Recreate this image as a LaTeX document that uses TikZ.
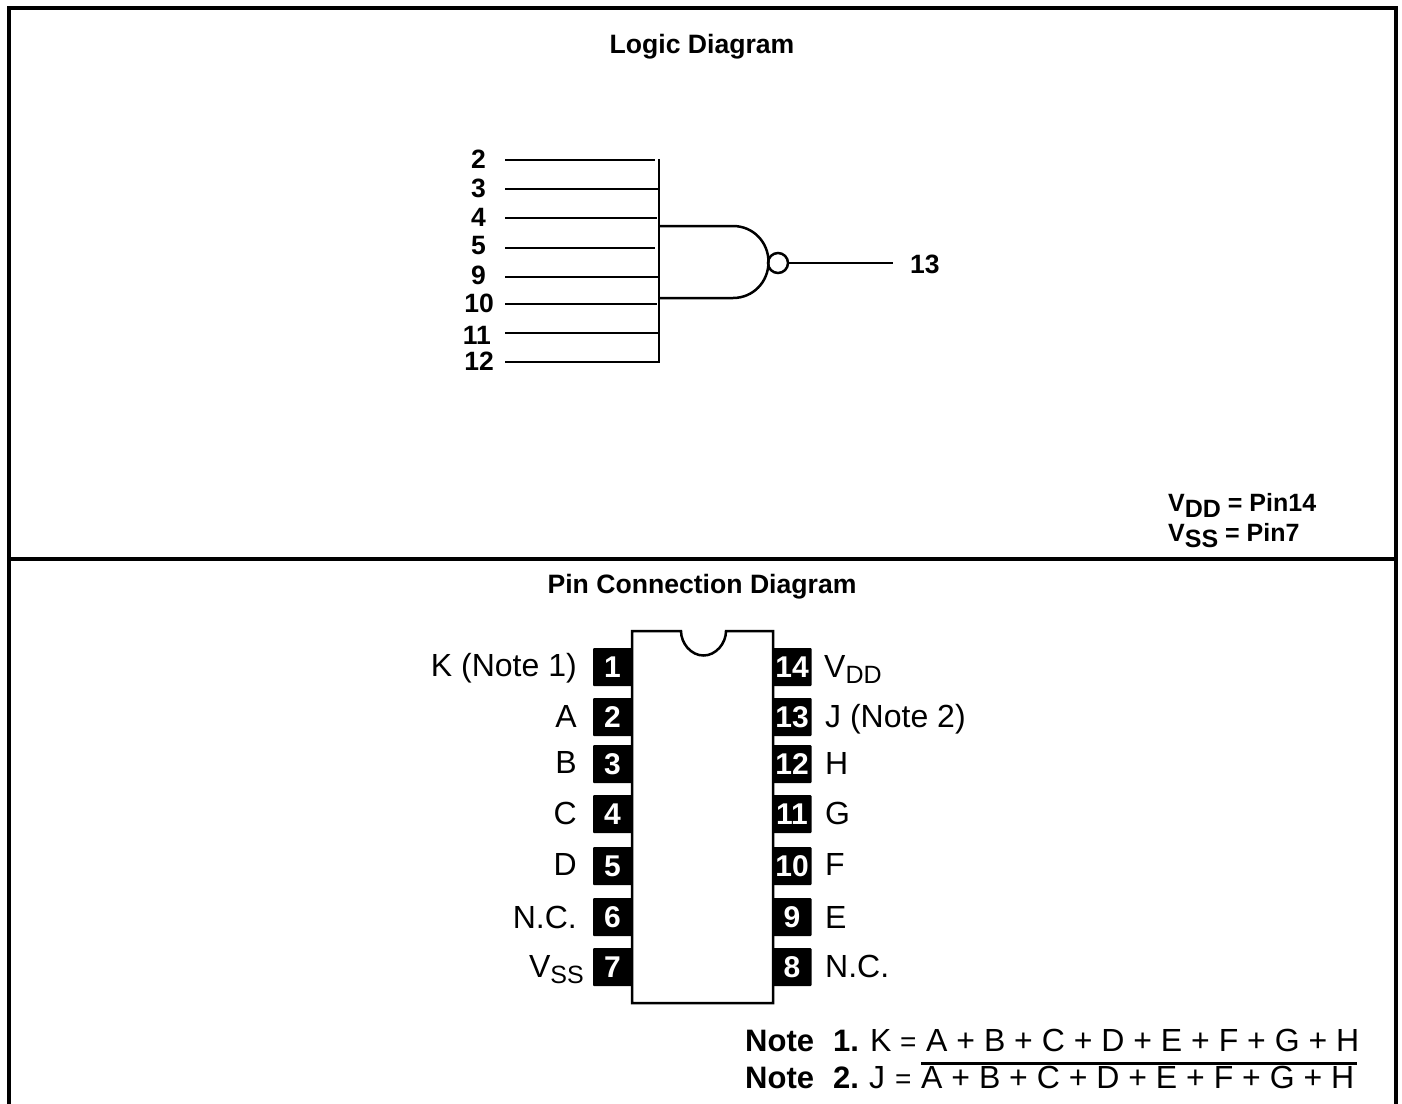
\documentclass[tikz,border=0pt]{standalone}
\usepackage{fontspec}
\setmainfont{Liberation Sans}
\tikzset{
  frameline/.style={line width=3.4pt,line cap=rect},
  wire/.style={line width=2.5pt},
  bold label/.style={font=\fontsize{26.5}{26.5}\selectfont\bfseries,inner sep=0pt},
  supply label/.style={font=\fontsize{25}{25}\selectfont\bfseries,inner sep=0pt,anchor=base west},
  title label/.style={font=\fontsize{26.6}{26.6}\selectfont\bfseries,inner sep=0pt,anchor=base},
  pin box/.style={fill=black,rounded corners=1pt,minimum width=39pt,minimum height=38pt,inner sep=0pt,text=white,font=\fontsize{30}{30}\selectfont\bfseries},
  pin name/.style={font=\fontsize{32}{32}\selectfont,inner sep=0pt},
  note/.style={font=\fontsize{32}{32}\selectfont,inner sep=0pt,anchor=base west},
  note eq/.style={font=\fontsize{28}{28}\selectfont,inner sep=0pt,anchor=base west},
  note head/.style={font=\fontsize{31}{31}\selectfont\bfseries,inner sep=0pt,anchor=base west},
}
\begin{document}
\begin{tikzpicture}[x=1pt,y=-1pt]
\useasboundingbox (0,0) rectangle (1402,1103);
% frame
\coordinate (fbl) at (9,1103);
\coordinate (ftl) at (9,8);
\coordinate (ftr) at (1396,8);
\coordinate (fbr) at (1396,1103);
\coordinate (dl) at (9,559);
\coordinate (dr) at (1396,559);
\draw[frameline] (fbl) -- (ftl) -- (ftr) -- (fbr);
\draw[frameline] (dl) -- (dr);
% titles
\node[title label] (t1) at (702,53) {Logic Diagram};
\node[title label] (t2) at (702,593) {Pin Connection Diagram};
% logic
\coordinate (bustop) at (659,159);
\coordinate (busbot) at (659,363);
\draw[wire] (bustop) -- (busbot);
\foreach \n/\y/\e/\ly/\lx in {2/160/655/159/486,3/189/659/188/486,4/218/657/217/486,5/248/655/246/486,9/277/659/275/486,10/304/657/303/494,11/333/659/335/491,12/362/660/361/494}{
  \node[bold label,anchor=east] (l\n) at (\lx,\ly) {\n};
  \coordinate (a\n) at (505,\y);
  \coordinate (b\n) at (\e,\y);
  \draw[wire] (a\n) -- (b\n);
}
\coordinate (gt) at (659,226);
\coordinate (gb) at (659,298);
\coordinate (gtr) at (733,226);
\coordinate (gbr) at (733,298);
\draw[wire] (gt) -- (gtr) .. controls (753,226) and (768.5,242) .. (768.5,262)
  .. controls (768.5,282) and (753,298) .. (gbr) -- (gb);
\node[draw,circle,line width=2.5pt,minimum size=20pt,inner sep=0pt] (bub) at (778,263) {};
\node[bold label,anchor=west] (l13) at (910,264) {13};
\coordinate (oute) at (893,263);
\draw[wire] (bub) -- (oute);
\node[supply label] (vdd) at (1168,511) {V\raisebox{-6pt}{DD} = Pin14};
\node[supply label] (vss) at (1168,541) {V\raisebox{-6pt}{SS} = Pin7};
% chip
\foreach \n/\y/\t/\yy in {1/667/K (Note 1)/676,2/717/A/727,3/764/B/773,4/814/C/824,5/866/D/875,6/917/N.C./928}{
  \node[pin box] (p\n) at (612.5,\y) {\n};
  \node[pin name,anchor=base east] (n\n) at (577,\yy) {\t};
}
\node[pin box] (p7) at (612.5,967) {7};
\node[pin name,anchor=base east] (n7) at (584,977) {V\raisebox{-6pt}{\fontsize{25}{25}\selectfont SS}};
\foreach \n/\y/\t/\yy in {13/717/J (Note 2)/727,12/764/H/774,11/814/G/824,10/866/F/875,9/917/E/928,8/967/N.C./977}{
  \node[pin box] (p\n) at (792,\y) {\n};
  \node[pin name,anchor=base west] (n\n) at (825,\yy) {\t};
}
\node[pin box] (p14) at (792,667) {14};
\node[pin name,anchor=base west] (n14) at (824,677) {V\raisebox{-6pt}{\fontsize{25}{25}\selectfont DD}};
\coordinate (c1) at (632,631);
\coordinate (c2) at (681,631);
\coordinate (c3) at (726,631);
\coordinate (c4) at (773,631);
\coordinate (c5) at (773,1003);
\coordinate (c6) at (632,1003);
\filldraw[wire,fill=white,line join=miter] (c1) -- (c2)
  .. controls (681,643.4) and (691.1,655.5) .. (703.5,655.5)
  .. controls (715.9,655.5) and (726,643.4) .. (c3)
  -- (c4) -- (c5) -- (c6) -- cycle;
% notes
\node[note head] (nh1) at (745,1051) {Note\hspace{19pt}1.};
\node[note head] (nh2) at (745,1088) {Note\hspace{19pt}2.};
\node[note] (k) at (870,1051) {K};
\node[note] (j) at (869,1088) {J};
\node[note eq] (e1) at (900,1051) {=};
\node[note eq] (e2) at (895,1088) {=};
\node[note] (note1) at (926,1051) {A + B + C + D + E + F + G + H};
\node[note] (note2) at (921,1088) {A + B + C + D + E + F + G + H};
\coordinate (ob1) at (921,1063.5);
\coordinate (ob2) at (1357,1063.5);
\draw[wire] (ob1) -- (ob2);
\end{tikzpicture}
\end{document}
